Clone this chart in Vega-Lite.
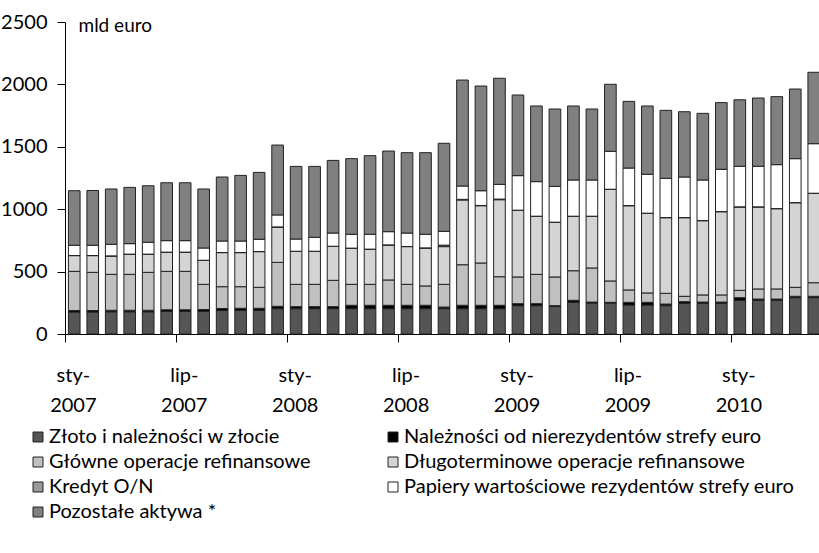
{
  "$schema": "https://vega.github.io/schema/vega-lite/v6.json",
  "autosize": {"type": "none"},
  "padding": {"left": 65, "top": 22, "right": -4, "bottom": 219},
  "width": 758,
  "height": 312,
  "background": "white",
  "datasets": {
    "bars": [
      {"m":"2007-01","zl":176,"nn":12,"gor":314,"dor":126,"kon":1,"pap":82,"poz":437},
      {"m":"2007-02","zl":176,"nn":12,"gor":306,"dor":134,"kon":1,"pap":82,"poz":439},
      {"m":"2007-03","zl":178,"nn":12,"gor":288,"dor":147,"kon":1,"pap":93,"poz":443},
      {"m":"2007-04","zl":178,"nn":12,"gor":288,"dor":161,"kon":1,"pap":84,"poz":451},
      {"m":"2007-05","zl":178,"nn":12,"gor":304,"dor":145,"kon":1,"pap":95,"poz":453},
      {"m":"2007-06","zl":180,"nn":14,"gor":308,"dor":153,"kon":1,"pap":92,"poz":464},
      {"m":"2007-07","zl":180,"nn":14,"gor":308,"dor":153,"kon":1,"pap":92,"poz":464},
      {"m":"2007-08","zl":182,"nn":14,"gor":202,"dor":192,"kon":1,"pap":98,"poz":473},
      {"m":"2007-09","zl":188,"nn":16,"gor":175,"dor":273,"kon":1,"pap":92,"poz":513},
      {"m":"2007-10","zl":190,"nn":16,"gor":173,"dor":273,"kon":1,"pap":92,"poz":526},
      {"m":"2007-11","zl":190,"nn":16,"gor":168,"dor":286,"kon":1,"pap":98,"poz":536},
      {"m":"2007-12","zl":203,"nn":19,"gor":352,"dor":283,"kon":1,"pap":96,"poz":560},
      {"m":"2008-01","zl":203,"nn":16,"gor":179,"dor":264,"kon":1,"pap":98,"poz":582},
      {"m":"2008-02","zl":203,"nn":16,"gor":179,"dor":264,"kon":1,"pap":112,"poz":568},
      {"m":"2008-03","zl":203,"nn":16,"gor":211,"dor":272,"kon":1,"pap":106,"poz":582},
      {"m":"2008-04","zl":203,"nn":27,"gor":168,"dor":289,"kon":1,"pap":111,"poz":606},
      {"m":"2008-05","zl":203,"nn":27,"gor":168,"dor":281,"kon":1,"pap":119,"poz":630},
      {"m":"2008-06","zl":203,"nn":27,"gor":203,"dor":280,"kon":1,"pap":106,"poz":646},
      {"m":"2008-07","zl":203,"nn":27,"gor":168,"dor":302,"kon":1,"pap":108,"poz":644},
      {"m":"2008-08","zl":203,"nn":27,"gor":155,"dor":304,"kon":1,"pap":109,"poz":654},
      {"m":"2008-09","zl":203,"nn":13,"gor":182,"dor":302,"kon":12,"pap":111,"poz":705},
      {"m":"2008-10","zl":203,"nn":27,"gor":325,"dor":519,"kon":5,"pap":107,"poz":849},
      {"m":"2008-11","zl":203,"nn":27,"gor":339,"dor":459,"kon":2,"pap":118,"poz":839},
      {"m":"2008-12","zl":203,"nn":27,"gor":229,"dor":617,"kon":5,"pap":118,"poz":850},
      {"m":"2009-01","zl":227,"nn":16,"gor":214,"dor":534,"kon":1,"pap":277,"poz":646},
      {"m":"2009-02","zl":227,"nn":16,"gor":235,"dor":465,"kon":1,"pap":277,"poz":606},
      {"m":"2009-03","zl":220,"nn":7,"gor":230,"dor":438,"kon":1,"pap":287,"poz":620},
      {"m":"2009-04","zl":254,"nn":16,"gor":237,"dor":436,"kon":1,"pap":290,"poz":593},
      {"m":"2009-05","zl":248,"nn":8,"gor":273,"dor":414,"kon":1,"pap":290,"poz":569},
      {"m":"2009-06","zl":248,"nn":6,"gor":171,"dor":734,"kon":1,"pap":304,"poz":537},
      {"m":"2009-07","zl":232,"nn":22,"gor":99,"dor":675,"kon":1,"pap":301,"poz":534},
      {"m":"2009-08","zl":232,"nn":22,"gor":75,"dor":638,"kon":1,"pap":312,"poz":547},
      {"m":"2009-09","zl":227,"nn":13,"gor":86,"dor":606,"kon":1,"pap":314,"poz":545},
      {"m":"2009-10","zl":246,"nn":13,"gor":43,"dor":630,"kon":1,"pap":325,"poz":523},
      {"m":"2009-11","zl":246,"nn":10,"gor":57,"dor":595,"kon":1,"pap":325,"poz":534},
      {"m":"2009-12","zl":246,"nn":10,"gor":57,"dor":667,"kon":1,"pap":339,"poz":534},
      {"m":"2010-01","zl":270,"nn":21,"gor":59,"dor":668,"kon":1,"pap":325,"poz":533},
      {"m":"2010-02","zl":270,"nn":10,"gor":81,"dor":657,"kon":1,"pap":325,"poz":547},
      {"m":"2010-03","zl":270,"nn":10,"gor":81,"dor":643,"kon":1,"pap":352,"poz":545},
      {"m":"2010-04","zl":291,"nn":11,"gor":72,"dor":678,"kon":1,"pap":352,"poz":558},
      {"m":"2010-05","zl":291,"nn":11,"gor":109,"dor":716,"kon":1,"pap":397,"poz":572}
    ],
    "series": [
      {"k":"zl","name":"Złoto i należności w złocie","o":1},
      {"k":"nn","name":"Należności od nierezydentów strefy euro","o":2},
      {"k":"gor","name":"Główne operacje refinansowe","o":3},
      {"k":"dor","name":"Długoterminowe operacje refinansowe","o":4},
      {"k":"kon","name":"Kredyt O/N","o":5},
      {"k":"pap","name":"Papiery wartościowe rezydentów strefy euro","o":6},
      {"k":"poz","name":"Pozostałe aktywa *","o":7}
    ]
  },
  "data": {"name": "bars"},
  "transform": [
    {"fold": ["zl","nn","gor","dor","kon","pap","poz"], "as": ["k","v"]},
    {"lookup": "k", "from": {"data": {"name": "series"}, "key": "k", "fields": ["name","o"]}}
  ],
  "mark": {"type": "bar", "stroke": "#222222", "strokeWidth": 1},
  "encoding": {
    "x": {
      "field": "m", "type": "ordinal",
      "scale": {"paddingInner": 0.37, "paddingOuter": 0.185},
      "axis": {
        "title": null,
        "values": ["2007-01","2007-07","2008-01","2008-07","2009-01","2009-07","2010-01"],
        "labelExpr": "[substring(datum.value,5,7) == '01' ? 'sty-' : 'lip-', substring(datum.value,0,4)]",
        "bandPosition": 0,
        "tickOffset": -3.4,
        "labelOffset": 2,
        "labelAngle": 0,
        "labelAlign": "center",
        "tickSize": 8,
        "labelFontSize": 20,
        "labelLineHeight": 30,
        "labelBaseline": "top",
        "labelPadding": 23,
        "grid": false
      }
    },
    "y": {
      "field": "v", "type": "quantitative", "stack": "zero",
      "scale": {"domain": [0, 2500], "nice": false},
      "axis": {
        "values": [0,500,1000,1500,2000,2500],
        "format": "d",
        "grid": false,
        "tickSize": 8,
        "labelPadding": 10,
        "labelFontSize": 20,
        "title": "mld euro",
        "titleAngle": 0,
        "titleAlign": "left",
        "titleBaseline": "alphabetic",
        "titleX": 13,
        "titleY": 9,
        "titleFontSize": 19,
        "titleFontWeight": "normal"
      }
    },
    "color": {
      "field": "name", "type": "nominal",
      "scale": {
        "domain": ["Złoto i należności w złocie","Główne operacje refinansowe","Kredyt O/N","Pozostałe aktywa *","Należności od nierezydentów strefy euro","Długoterminowe operacje refinansowe","Papiery wartościowe rezydentów strefy euro"],
        "range": ["#555555","#c0c0c0","#999999","#808080","#000000","#d4d4d4","#ffffff"]
      },
      "legend": {
        "orient": "none", "legendX": -37, "legendY": 405,
        "columns": 2, "title": null,
        "symbolType": "square", "symbolSize": 100,
        "symbolStrokeColor": "#222222", "symbolStrokeWidth": 1,
        "labelFontSize": 20, "labelLimit": 600, "labelOffset": 1,
        "rowPadding": 5, "columnPadding": 72, "padding": 0
      }
    },
    "order": {"field": "o", "type": "quantitative", "sort": "ascending"}
  },
  "config": {
    "view": {"stroke": null},
    "font": "Lato",
    "axis": {"domainColor": "#000000", "tickColor": "#000000", "labelColor": "#000000", "titleColor": "#000000", "domainWidth": 1, "tickWidth": 1},
    "legend": {"labelColor": "#000000"}
  }
}
